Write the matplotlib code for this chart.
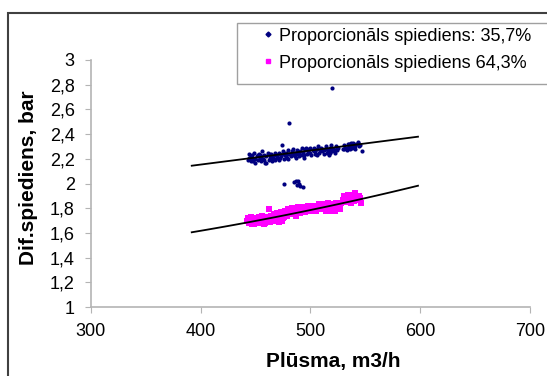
import matplotlib
matplotlib.use("Agg")
import matplotlib.pyplot as plt
import numpy as np
from matplotlib.patches import Rectangle
from matplotlib.lines import Line2D

plt.rcParams['font.family'] = ['Liberation Sans', 'DejaVu Sans']

# ---- data ----
series_names = ["Proporcionāls spiediens: 35,7%", "Proporcionāls spiediens 64,3%"]

blue_x = [443, 444, 445, 446, 447, 448, 449, 450, 451, 452, 453, 454, 455, 456, 457, 458, 459, 460,
          461, 462, 463, 464, 465, 466, 467, 468, 469, 470, 471, 472, 473, 474, 475, 476, 477, 478,
          479, 480, 481, 482, 483, 484, 485, 486, 487, 488, 489, 490, 491, 492, 493, 494, 495, 496,
          497, 498, 499, 500, 501, 502, 503, 504, 505, 506, 507, 508, 509, 510, 511, 512, 513, 514,
          515, 516, 517, 518, 519, 520, 521, 522, 523, 524, 525, 530, 531, 532, 533, 534, 535, 536,
          537, 538, 539, 540, 541, 542, 543, 544, 545, 547,
          446, 450, 454, 458, 462, 466, 470, 478, 484, 492, 498, 504, 510, 516, 522, 533, 539, 544,
          444, 448, 452, 456, 460, 464, 468, 472, 476, 480, 486, 490, 494, 500, 506, 512, 518, 524,
          531, 535, 541, 455, 463, 471, 483, 495, 503, 511, 519, 537,
          520, 481, 476, 485, 487, 488, 489, 490, 491, 493]
blue_y = [2.19, 2.24, 2.21, 2.18, 2.23, 2.20, 2.25, 2.17, 2.22, 2.19, 2.24, 2.21, 2.18, 2.26, 2.20, 2.23, 2.17, 2.22,
          2.25, 2.19, 2.21, 2.24, 2.18, 2.22, 2.20, 2.25, 2.23, 2.21, 2.19, 2.24, 2.22, 2.31, 2.26, 2.20, 2.23, 2.25,
          2.21, 2.27, 2.24, 2.22, 2.26, 2.28, 2.23, 2.25, 2.21, 2.27, 2.24, 2.22, 2.26, 2.29, 2.25, 2.23, 2.27, 2.29,
          2.24, 2.26, 2.28, 2.25, 2.23, 2.27, 2.29, 2.26, 2.24, 2.28, 2.30, 2.25, 2.27, 2.29, 2.26, 2.24, 2.28, 2.30,
          2.25, 2.27, 2.23, 2.29, 2.31, 2.26, 2.28, 2.25, 2.30, 2.27, 2.29, 2.28, 2.31, 2.29, 2.27, 2.32, 2.30, 2.28,
          2.31, 2.29, 2.33, 2.30, 2.28, 2.32, 2.34, 2.30, 2.31, 2.26,
          2.22, 2.20, 2.23, 2.19, 2.24, 2.21, 2.23, 2.22, 2.25, 2.23, 2.27, 2.24, 2.27, 2.26, 2.27, 2.29, 2.31, 2.32,
          2.21, 2.18, 2.23, 2.20, 2.17, 2.22, 2.19, 2.21, 2.24, 2.20, 2.22, 2.25, 2.21, 2.29, 2.23, 2.27, 2.25, 2.29,
          2.28, 2.32, 2.30, 2.22, 2.23, 2.25, 2.24, 2.28, 2.26, 2.28, 2.27, 2.33,
          2.77, 2.49, 2.00, 2.01, 2.02, 1.99, 2.02, 2.00, 1.98, 1.97]

pink_x = [442, 443, 444, 445, 446, 447, 448, 449, 450, 451, 452, 453, 454, 455, 456, 457, 458, 459,
          460, 461, 462, 463, 464, 465, 466, 467, 468, 469, 470, 471, 472, 473, 474, 475, 476, 477,
          478, 479, 480, 481, 482, 483, 484, 485, 486, 487, 488, 489, 490, 491, 492, 493, 494, 495,
          496, 497, 498, 499, 500, 501, 502, 503, 504, 505, 506, 507, 508, 509, 510, 511, 512, 513,
          514, 515, 516, 517, 518, 519, 520, 521, 522, 523, 524, 525, 526, 527, 528, 530, 531, 532,
          533, 534, 535, 536, 537, 538, 539, 540, 541, 542, 543, 544, 545, 546,
          445, 449, 453, 457, 461, 465, 469, 473, 477, 481, 485, 489, 493, 497, 501, 505, 509, 513,
          517, 521, 525, 532, 536, 540, 544,
          447, 451, 455, 459, 463, 467, 471, 475, 479, 483, 487, 491, 495, 499, 503, 507, 511, 515,
          519, 523, 527, 534, 538, 542]
pink_y = [1.70, 1.72, 1.68, 1.71, 1.73, 1.69, 1.71, 1.67, 1.72, 1.70, 1.68, 1.73, 1.71, 1.69, 1.74, 1.72, 1.67, 1.70,
          1.73, 1.71, 1.79, 1.69, 1.74, 1.72, 1.70, 1.75, 1.73, 1.71, 1.76, 1.74, 1.72, 1.77, 1.70, 1.75, 1.73, 1.78,
          1.76, 1.74, 1.79, 1.77, 1.75, 1.80, 1.78, 1.76, 1.80, 1.74, 1.79, 1.81, 1.77, 1.80, 1.78, 1.81, 1.79, 1.77,
          1.81, 1.79, 1.82, 1.80, 1.78, 1.81, 1.79, 1.82, 1.80, 1.78, 1.82, 1.80, 1.83, 1.81, 1.79, 1.82, 1.80, 1.83,
          1.78, 1.81, 1.84, 1.79, 1.82, 1.80, 1.83, 1.81, 1.78, 1.84, 1.82, 1.80, 1.83, 1.81, 1.84, 1.87, 1.90, 1.85,
          1.88, 1.91, 1.86, 1.89, 1.84, 1.88, 1.90, 1.86, 1.92, 1.89, 1.87, 1.90, 1.88, 1.84,
          1.69, 1.70, 1.70, 1.71, 1.72, 1.73, 1.74, 1.75, 1.76, 1.78, 1.78, 1.79, 1.80, 1.80, 1.80, 1.81, 1.82, 1.81,
          1.82, 1.83, 1.82, 1.88, 1.87, 1.89, 1.89,
          1.67, 1.69, 1.72, 1.68, 1.72, 1.71, 1.69, 1.72, 1.77, 1.76, 1.78, 1.76, 1.80, 1.78, 1.80, 1.79, 1.80, 1.82,
          1.78, 1.80, 1.79, 1.86, 1.91, 1.87]

# trend lines
trend_x = [392, 598]
blue_trend_y = [2.144, 2.379]
pink_trend_x = [392, 500, 598]
pink_trend_y = [1.605, 1.785, 1.982]

xticks = [300, 400, 500, 600, 700]
yticks = [1, 1.2, 1.4, 1.6, 1.8, 2, 2.2, 2.4, 2.6, 2.8, 3]
ytick_labels = ["1", "1,2", "1,4", "1,6", "1,8", "2", "2,2", "2,4", "2,6", "2,8", "3"]

W, H = 547, 376
fig = plt.figure(figsize=(W / 100, H / 100), dpi=100)
ax_l, ax_r, ax_t, ax_b = 90.7, 530.0, 60.0, 307.0
ax = fig.add_axes([ax_l / W, 1 - ax_b / H, (ax_r - ax_l) / W, (ax_b - ax_t) / H])

ax.scatter(blue_x, blue_y, marker='o', s=9, color='#000080', linewidths=0, zorder=3)
ax.scatter(pink_x, pink_y, marker='s', s=17, color='#ff00ff', linewidths=0, zorder=2)

ax.plot(trend_x, blue_trend_y, color='black', lw=1.3, zorder=4)
coef = np.polyfit(pink_trend_x, pink_trend_y, 2)
tx = np.linspace(pink_trend_x[0], pink_trend_x[-1], 50)
ax.plot(tx, np.polyval(coef, tx), color='black', lw=1.3, zorder=4)

ax.set_xlim(300, 700)
ax.set_ylim(1, 3)
ax.set_xticks(xticks)
ax.set_yticks(yticks)
ax.set_yticklabels(ytick_labels)
for s in ['top', 'right']:
    ax.spines[s].set_visible(False)
for s in ['left', 'bottom']:
    ax.spines[s].set_color('#b4b4b4')
    ax.spines[s].set_linewidth(1.2)
ax.tick_params(direction='out', length=4.5, color='#b4b4b4', labelsize=13, pad=7)
ax.set_xlabel("Plūsma, m3/h", fontsize=15, fontweight='bold')
ax.set_ylabel("Dif.spiediens, bar", fontsize=15, fontweight='bold')
ax.xaxis.set_label_coords((333 - ax_l) / (ax_r - ax_l), (ax_b - 361) / (ax_b - ax_t))
ax.xaxis.label.set_va('center')
ax.yaxis.set_label_coords((28 - ax_l) / (ax_r - ax_l), (ax_b - 178) / (ax_b - ax_t))
ax.yaxis.label.set_va('center')

# outer border
fig.patches.append(Rectangle((7.7 / W, -0.1), 1.2, 1 - 13.3 / H + 0.1, transform=fig.transFigure,
                             fill=False, edgecolor='#404040', lw=1.5))
# legend frame
fig.patches.append(Rectangle((237 / W, 1 - 84 / H), 1.0, (84 - 23.3) / H, transform=fig.transFigure,
                             fill=True, facecolor='white', edgecolor='#a0a0a0', lw=1.0, zorder=5))
handles = [Line2D([], [], marker='D', ls='', color='#000080', markersize=2.5),
           Line2D([], [], marker='s', ls='', color='#ff00ff', markersize=3.5)]
leg = fig.legend(handles, series_names, loc='upper left', bbox_to_anchor=(255.5 / W, 1 - 24 / H),
                 frameon=False, fontsize=13, handlelength=1.0, handletextpad=0.1,
                 labelspacing=0.56, borderpad=0.2, borderaxespad=0)
leg.set_zorder(6)

fig.savefig("out.png", dpi=100)
